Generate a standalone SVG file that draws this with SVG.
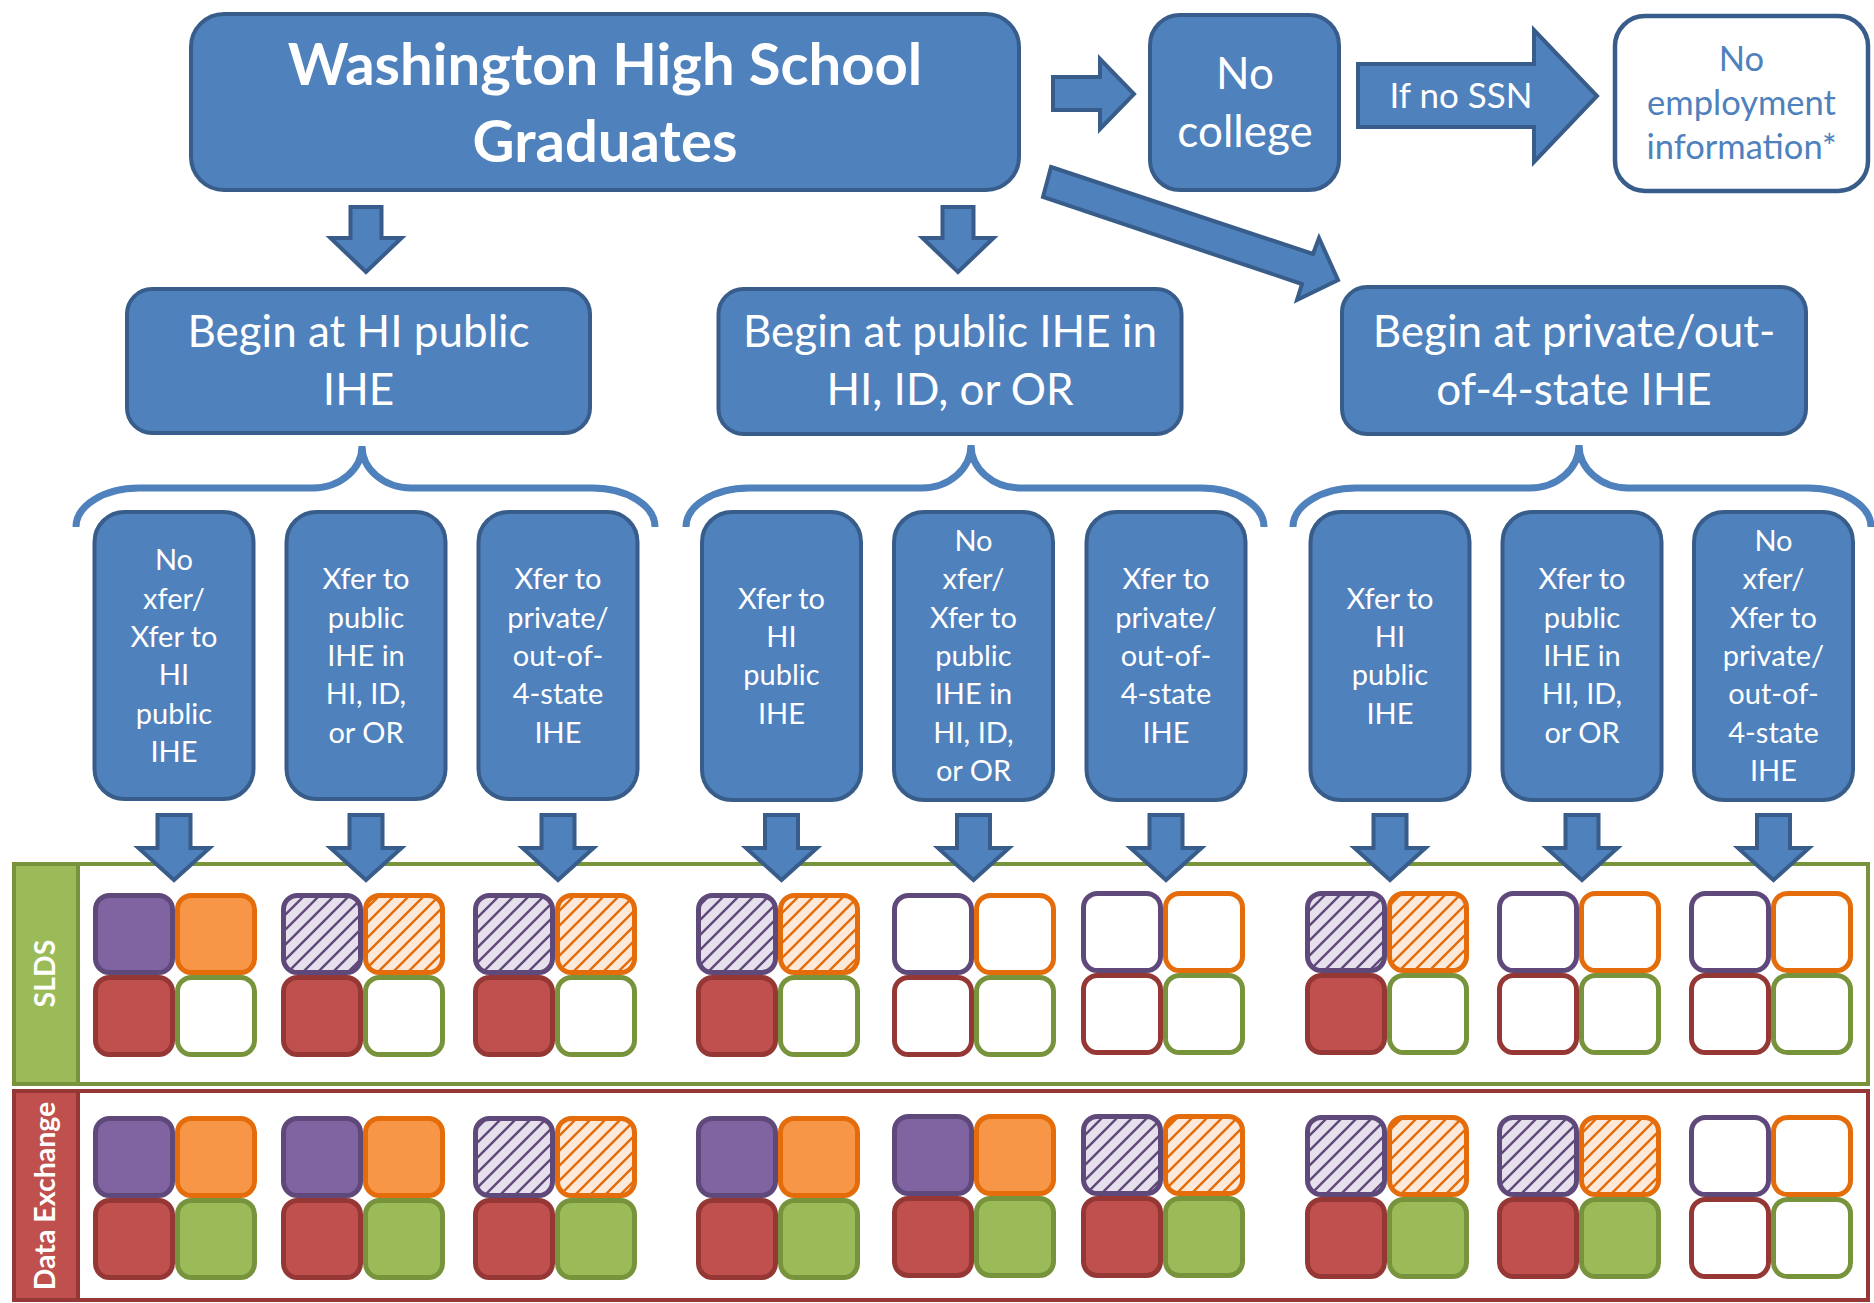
<svg xmlns="http://www.w3.org/2000/svg" width="1874" height="1303" viewBox="0 0 1874 1303">
<defs>
<pattern id="hP" patternUnits="userSpaceOnUse" width="15" height="15"><rect width="15" height="15" fill="#E5E0EC"/><path d="M-3,3 L3,-3 M0,15 L15,0 M12,18 L18,12" stroke="#5F497A" stroke-width="2.4"/></pattern>
<pattern id="hO" patternUnits="userSpaceOnUse" width="15" height="15"><rect width="15" height="15" fill="#FDE9D9"/><path d="M-3,3 L3,-3 M0,15 L15,0 M12,18 L18,12" stroke="#E46C0A" stroke-width="2.4"/></pattern>
</defs>
<style>
.box{fill:#4F81BD;stroke:#385D8A;stroke-width:4}
.wbox{fill:#FFFFFF;stroke:#385D8A;stroke-width:4.5}
.arr{fill:#4F81BD;stroke:#385D8A;stroke-width:4;stroke-linejoin:miter}
.brace{fill:none;stroke:#4F81BD;stroke-width:7}
text{font-family:Lato,"Liberation Sans",sans-serif;text-anchor:middle}
.tt{font-size:58px;font-weight:700;fill:#fff}
.tm{font-size:44px;fill:#fff}
.ts{font-size:35px;fill:#fff}
.te{font-size:34.5px;fill:#4F81BD}
.tb{font-size:44px;fill:#fff}
.tc{font-size:29px;fill:#fff}
.tl{font-size:28.5px;font-weight:700;fill:#fff}
.sq{stroke-width:5}
.pS{fill:#8064A2;stroke:#5F497A}.pH{fill:url(#hP);stroke:#5F497A}.pE{fill:#fff;stroke:#5F497A}
.oS{fill:#F79646;stroke:#E46C0A}.oH{fill:url(#hO);stroke:#E46C0A}.oE{fill:#fff;stroke:#E46C0A}
.rS{fill:#C0504D;stroke:#953735}.rE{fill:#fff;stroke:#953735}
.gS{fill:#9BBB59;stroke:#77933C}.gE{fill:#fff;stroke:#77933C}
</style>

<!-- bands -->
<g id="band-slds">
<rect x="14" y="864" width="1854" height="220" fill="#fff" stroke="#77933C" stroke-width="4"/>
<rect x="14" y="864" width="64" height="220" fill="#9BBB59" stroke="#77933C" stroke-width="4"/>
<text class="tl" transform="translate(55,973.5) rotate(-90)">SLDS</text>
</g>
<g id="band-de">
<rect x="14" y="1091" width="1854" height="209" fill="#fff" stroke="#953735" stroke-width="4"/>
<rect x="14" y="1091" width="64" height="209" fill="#C0504D" stroke="#953735" stroke-width="4"/>
<text class="tl" transform="translate(55,1196) rotate(-90)">Data Exchange</text>
</g>

<!-- nodes -->
<g id="n-wa">
<rect class="box" x="191" y="14" width="828" height="176" rx="33"/>
<text class="tt" x="605" y="85">Washington High School</text>
<text class="tt" x="605" y="162">Graduates</text>
</g>
<g id="n-nocollege">
<rect class="box" x="1150" y="15" width="189" height="175" rx="30"/>
<text class="tm" x="1245" y="89">No</text>
<text class="tm" x="1245" y="147">college</text>
</g>
<g id="n-noemp">
<rect class="wbox" x="1615" y="16" width="253" height="175" rx="30"/>
<text class="te" x="1741.5" y="71">No</text>
<text class="te" x="1741.5" y="115">employment</text>
<text class="te" x="1741.5" y="159">information*</text>
</g>
<g id="n-begin1">
<rect class="box" x="127" y="289" width="463" height="144" rx="25"/>
<text class="tb" x="358.5" y="347">Begin at HI public</text>
<text class="tb" x="358.5" y="405">IHE</text>
</g>
<g id="n-begin2">
<rect class="box" x="718.5" y="289" width="463" height="145" rx="25"/>
<text class="tb" x="950" y="347">Begin at public IHE in</text>
<text class="tb" x="950" y="405">HI, ID, or OR</text>
</g>
<g id="n-begin3">
<rect class="box" x="1342" y="287" width="464" height="147" rx="25"/>
<text class="tb" x="1574" y="347">Begin at private/out-</text>
<text class="tb" x="1574" y="405">of-4-state IHE</text>
</g>

<g id="n-c1">
<rect class="box" x="94.5" y="512" width="159" height="287" rx="30"/>
<text class="tc"><tspan x="174" y="570.3">No</tspan><tspan x="174" y="608.6">xfer/</tspan><tspan x="174" y="646.9">Xfer to</tspan><tspan x="174" y="685.2">HI</tspan><tspan x="174" y="723.5">public</tspan><tspan x="174" y="761.8">IHE</tspan></text>
</g>
<g id="n-c2">
<rect class="box" x="286.5" y="512" width="159" height="287" rx="30"/>
<text class="tc"><tspan x="366" y="589.4">Xfer to</tspan><tspan x="366" y="627.7">public</tspan><tspan x="366" y="666">IHE in</tspan><tspan x="366" y="704.3">HI, ID,</tspan><tspan x="366" y="742.6">or OR</tspan></text>
</g>
<g id="n-c3">
<rect class="box" x="478.5" y="512" width="159" height="287" rx="30"/>
<text class="tc"><tspan x="558" y="589.4">Xfer to</tspan><tspan x="558" y="627.7">private/</tspan><tspan x="558" y="666">out-of-</tspan><tspan x="558" y="704.3">4-state</tspan><tspan x="558" y="742.6">IHE</tspan></text>
</g>
<g id="n-c4">
<rect class="box" x="702" y="512" width="159" height="288" rx="30"/>
<text class="tc"><tspan x="781.5" y="608.6">Xfer to</tspan><tspan x="781.5" y="646.9">HI</tspan><tspan x="781.5" y="685.2">public</tspan><tspan x="781.5" y="723.5">IHE</tspan></text>
</g>
<g id="n-c5">
<rect class="box" x="894" y="512" width="159" height="288" rx="30"/>
<text class="tc"><tspan x="973.5" y="551.1">No</tspan><tspan x="973.5" y="589.4">xfer/</tspan><tspan x="973.5" y="627.7">Xfer to</tspan><tspan x="973.5" y="666">public</tspan><tspan x="973.5" y="704.3">IHE in</tspan><tspan x="973.5" y="742.6">HI, ID,</tspan><tspan x="973.5" y="780.9">or OR</tspan></text>
</g>
<g id="n-c6">
<rect class="box" x="1086.5" y="512" width="159" height="288" rx="30"/>
<text class="tc"><tspan x="1166" y="589.4">Xfer to</tspan><tspan x="1166" y="627.7">private/</tspan><tspan x="1166" y="666">out-of-</tspan><tspan x="1166" y="704.3">4-state</tspan><tspan x="1166" y="742.6">IHE</tspan></text>
</g>
<g id="n-c7">
<rect class="box" x="1310.5" y="512" width="159" height="288" rx="30"/>
<text class="tc"><tspan x="1390" y="608.6">Xfer to</tspan><tspan x="1390" y="646.9">HI</tspan><tspan x="1390" y="685.2">public</tspan><tspan x="1390" y="723.5">IHE</tspan></text>
</g>
<g id="n-c8">
<rect class="box" x="1502.5" y="512" width="159" height="288" rx="30"/>
<text class="tc"><tspan x="1582" y="589.4">Xfer to</tspan><tspan x="1582" y="627.7">public</tspan><tspan x="1582" y="666">IHE in</tspan><tspan x="1582" y="704.3">HI, ID,</tspan><tspan x="1582" y="742.6">or OR</tspan></text>
</g>
<g id="n-c9">
<rect class="box" x="1694" y="512" width="159" height="288" rx="30"/>
<text class="tc"><tspan x="1773.5" y="551.1">No</tspan><tspan x="1773.5" y="589.4">xfer/</tspan><tspan x="1773.5" y="627.7">Xfer to</tspan><tspan x="1773.5" y="666">private/</tspan><tspan x="1773.5" y="704.3">out-of-</tspan><tspan x="1773.5" y="742.6">4-state</tspan><tspan x="1773.5" y="780.9">IHE</tspan></text>
</g>

<!-- data squares -->
<g id="sq-slds">
<rect class="sq pS" x="95.5" y="895.5" width="77" height="77" rx="14"/><rect class="sq oS" x="177.5" y="895.5" width="77" height="77" rx="14"/><rect class="sq rS" x="95.5" y="977.5" width="77" height="77" rx="14"/><rect class="sq gE" x="177.5" y="977.5" width="77" height="77" rx="14"/>
<rect class="sq pH" x="283.5" y="895.5" width="77" height="77" rx="14"/><rect class="sq oH" x="365.5" y="895.5" width="77" height="77" rx="14"/><rect class="sq rS" x="283.5" y="977.5" width="77" height="77" rx="14"/><rect class="sq gE" x="365.5" y="977.5" width="77" height="77" rx="14"/>
<rect class="sq pH" x="475.5" y="895.5" width="77" height="77" rx="14"/><rect class="sq oH" x="557.5" y="895.5" width="77" height="77" rx="14"/><rect class="sq rS" x="475.5" y="977.5" width="77" height="77" rx="14"/><rect class="sq gE" x="557.5" y="977.5" width="77" height="77" rx="14"/>
<rect class="sq pH" x="698.5" y="895.5" width="77" height="77" rx="14"/><rect class="sq oH" x="780.5" y="895.5" width="77" height="77" rx="14"/><rect class="sq rS" x="698.5" y="977.5" width="77" height="77" rx="14"/><rect class="sq gE" x="780.5" y="977.5" width="77" height="77" rx="14"/>
<rect class="sq pE" x="894.5" y="895.5" width="77" height="77" rx="14"/><rect class="sq oE" x="976.5" y="895.5" width="77" height="77" rx="14"/><rect class="sq rE" x="894.5" y="977.5" width="77" height="77" rx="14"/><rect class="sq gE" x="976.5" y="977.5" width="77" height="77" rx="14"/>
<rect class="sq pE" x="1083.5" y="893.5" width="77" height="77" rx="14"/><rect class="sq oE" x="1165.5" y="893.5" width="77" height="77" rx="14"/><rect class="sq rE" x="1083.5" y="975.5" width="77" height="77" rx="14"/><rect class="sq gE" x="1165.5" y="975.5" width="77" height="77" rx="14"/>
<rect class="sq pH" x="1307.5" y="893.5" width="77" height="77" rx="14"/><rect class="sq oH" x="1389.5" y="893.5" width="77" height="77" rx="14"/><rect class="sq rS" x="1307.5" y="975.5" width="77" height="77" rx="14"/><rect class="sq gE" x="1389.5" y="975.5" width="77" height="77" rx="14"/>
<rect class="sq pE" x="1499.5" y="893.5" width="77" height="77" rx="14"/><rect class="sq oE" x="1581.5" y="893.5" width="77" height="77" rx="14"/><rect class="sq rE" x="1499.5" y="975.5" width="77" height="77" rx="14"/><rect class="sq gE" x="1581.5" y="975.5" width="77" height="77" rx="14"/>
<rect class="sq pE" x="1691.5" y="893.5" width="77" height="77" rx="14"/><rect class="sq oE" x="1773.5" y="893.5" width="77" height="77" rx="14"/><rect class="sq rE" x="1691.5" y="975.5" width="77" height="77" rx="14"/><rect class="sq gE" x="1773.5" y="975.5" width="77" height="77" rx="14"/>
</g>
<g id="sq-de">
<rect class="sq pS" x="95.5" y="1118.5" width="77" height="77" rx="14"/><rect class="sq oS" x="177.5" y="1118.5" width="77" height="77" rx="14"/><rect class="sq rS" x="95.5" y="1200.5" width="77" height="77" rx="14"/><rect class="sq gS" x="177.5" y="1200.5" width="77" height="77" rx="14"/>
<rect class="sq pS" x="283.5" y="1118.5" width="77" height="77" rx="14"/><rect class="sq oS" x="365.5" y="1118.5" width="77" height="77" rx="14"/><rect class="sq rS" x="283.5" y="1200.5" width="77" height="77" rx="14"/><rect class="sq gS" x="365.5" y="1200.5" width="77" height="77" rx="14"/>
<rect class="sq pH" x="475.5" y="1118.5" width="77" height="77" rx="14"/><rect class="sq oH" x="557.5" y="1118.5" width="77" height="77" rx="14"/><rect class="sq rS" x="475.5" y="1200.5" width="77" height="77" rx="14"/><rect class="sq gS" x="557.5" y="1200.5" width="77" height="77" rx="14"/>
<rect class="sq pS" x="698.5" y="1118.5" width="77" height="77" rx="14"/><rect class="sq oS" x="780.5" y="1118.5" width="77" height="77" rx="14"/><rect class="sq rS" x="698.5" y="1200.5" width="77" height="77" rx="14"/><rect class="sq gS" x="780.5" y="1200.5" width="77" height="77" rx="14"/>
<rect class="sq pS" x="894.5" y="1116.5" width="77" height="77" rx="14"/><rect class="sq oS" x="976.5" y="1116.5" width="77" height="77" rx="14"/><rect class="sq rS" x="894.5" y="1198.5" width="77" height="77" rx="14"/><rect class="sq gS" x="976.5" y="1198.5" width="77" height="77" rx="14"/>
<rect class="sq pH" x="1083.5" y="1116.5" width="77" height="77" rx="14"/><rect class="sq oH" x="1165.5" y="1116.5" width="77" height="77" rx="14"/><rect class="sq rS" x="1083.5" y="1198.5" width="77" height="77" rx="14"/><rect class="sq gS" x="1165.5" y="1198.5" width="77" height="77" rx="14"/>
<rect class="sq pH" x="1307.5" y="1117.5" width="77" height="77" rx="14"/><rect class="sq oH" x="1389.5" y="1117.5" width="77" height="77" rx="14"/><rect class="sq rS" x="1307.5" y="1199.5" width="77" height="77" rx="14"/><rect class="sq gS" x="1389.5" y="1199.5" width="77" height="77" rx="14"/>
<rect class="sq pH" x="1499.5" y="1117.5" width="77" height="77" rx="14"/><rect class="sq oH" x="1581.5" y="1117.5" width="77" height="77" rx="14"/><rect class="sq rS" x="1499.5" y="1199.5" width="77" height="77" rx="14"/><rect class="sq gS" x="1581.5" y="1199.5" width="77" height="77" rx="14"/>
<rect class="sq pE" x="1691.5" y="1117.5" width="77" height="77" rx="14"/><rect class="sq oE" x="1773.5" y="1117.5" width="77" height="77" rx="14"/><rect class="sq rE" x="1691.5" y="1199.5" width="77" height="77" rx="14"/><rect class="sq gE" x="1773.5" y="1199.5" width="77" height="77" rx="14"/>
</g>

<!-- connectors -->
<g id="connectors">
<polygon class="arr" points="1053,77 1100,77 1100,59 1134,94 1100,129 1100,110 1053,110"/>
<polygon class="arr" points="1358,64 1534,64 1534,30 1597,96 1534,162 1534,127 1358,127"/>
<text class="ts" x="1461" y="108">If no SSN</text>
<polygon class="arr" points="1051,167 1313,254 1319,238 1338,280 1297,300 1302,284 1043,197"/>
<polygon class="arr" points="350.5,207 381.5,207 381.5,238 401.5,238 366,272 330.5,238 350.5,238"/>
<polygon class="arr" points="942.5,207 973.5,207 973.5,238 993.5,238 958,272 922.5,238 942.5,238"/>
<path class="brace" d="M76,527 A63,39 0 0 1 139,488 L313,488 A49,42 0 0 0 362,446 A49,42 0 0 0 411,488 L592,488 A63,39 0 0 1 655,527"/>
<path class="brace" d="M686,527 A63,39 0 0 1 749,488 L922,488 A49,43 0 0 0 971,445 A49,43 0 0 0 1020,488 L1201,488 A63,39 0 0 1 1264,527"/>
<path class="brace" d="M1293,527 A63,39 0 0 1 1356,488 L1530,488 A49,43 0 0 0 1579,445 A49,43 0 0 0 1628,488 L1808,488 A63,39 0 0 1 1871,527"/>
<polygon class="arr" points="157.5,815 190.5,815 190.5,848 209.5,848 174,880 138.5,848 157.5,848"/>
<polygon class="arr" points="349.5,815 382.5,815 382.5,848 401.5,848 366,880 330.5,848 349.5,848"/>
<polygon class="arr" points="541.5,815 574.5,815 574.5,848 593.5,848 558,880 522.5,848 541.5,848"/>
<polygon class="arr" points="765,815 798,815 798,848 817,848 781.5,880 746,848 765,848"/>
<polygon class="arr" points="957,815 990,815 990,848 1009,848 973.5,880 938,848 957,848"/>
<polygon class="arr" points="1149.5,815 1182.5,815 1182.5,848 1201.5,848 1166,880 1130.5,848 1149.5,848"/>
<polygon class="arr" points="1373.5,815 1406.5,815 1406.5,848 1425.5,848 1390,880 1354.5,848 1373.5,848"/>
<polygon class="arr" points="1565.5,815 1598.5,815 1598.5,848 1617.5,848 1582,880 1546.5,848 1565.5,848"/>
<polygon class="arr" points="1757,815 1790,815 1790,848 1809,848 1773.5,880 1738,848 1757,848"/>
</g>
</svg>
